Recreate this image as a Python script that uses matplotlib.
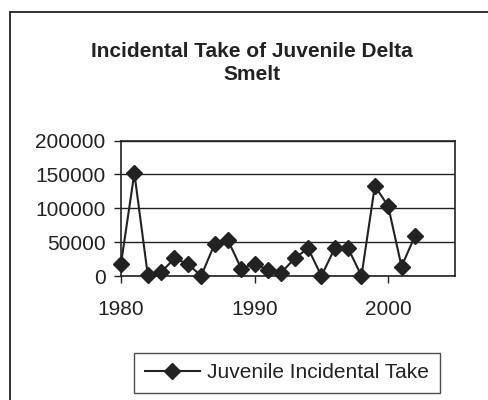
import matplotlib.pyplot as plt
from matplotlib.patches import Rectangle

plt.rcParams['font.family'] = ['Liberation Sans', 'DejaVu Sans']

# data
years = [1980, 1981, 1982, 1983, 1984, 1985, 1986, 1987, 1988, 1989, 1990, 1991,
         1992, 1993, 1994, 1995, 1996, 1997, 1998, 1999, 2000, 2001, 2002]
take = [18000, 152000, 2000, 5500, 26000, 18000, 0, 47000, 53000, 11000, 18000, 9000,
        5000, 26000, 41000, 0, 41000, 41000, 0, 133000, 103000, 14000, 59000]
x_ticks = [1980, 1990, 2000]
y_ticks = [0, 50000, 100000, 150000, 200000]

fig = plt.figure(figsize=(4.88, 4.0), dpi=100)
ink = '#222222'

# outer chart border (runs off right and bottom edges)
fig.patches.append(Rectangle((10 / 488, -0.05), 1.2, 1 - 12 / 400 + 0.05,
                             transform=fig.transFigure, fill=False,
                             edgecolor=ink, linewidth=1.3))

ax = fig.add_axes([121 / 488, 1 - 276 / 400, (455 - 121) / 488, (276 - 140.5) / 400])
ax.plot(years, take, color=ink, linewidth=1.5, marker='D', markersize=8,
        markerfacecolor=ink, markeredgecolor=ink, label='Juvenile Incidental Take',
        clip_on=False, zorder=3)

ax.set_xlim(1980, 2005)
ax.set_ylim(0, 200000)
ax.set_xticks(x_ticks)
ax.set_yticks(y_ticks)
ax.tick_params(labelsize=15, colors=ink, direction='out', length=5, width=1, pad=6)
ax.tick_params(axis='x', pad=12)
ax.grid(axis='y', color=ink, linewidth=1)
ax.set_axisbelow(True)
for s in ax.spines.values():
    s.set_color(ink)
    s.set_linewidth(1.2)

fig.text(252 / 488, 1 - 63 / 400, 'Incidental Take of Juvenile Delta\nSmelt',
         ha='center', va='center', fontsize=15, fontweight='bold', color=ink,
         linespacing=1.25)

leg = fig.legend(loc='center', bbox_to_anchor=(287 / 488, 1 - 373 / 400),
                 fontsize=15, frameon=True, fancybox=False, handlelength=2.65,
                 handletextpad=0.35, borderpad=0.5, borderaxespad=0)
leg.get_frame().set_edgecolor(ink)
leg.get_frame().set_linewidth(1)
for t in leg.get_texts():
    t.set_color(ink)

fig.savefig('out.png', dpi=100)
